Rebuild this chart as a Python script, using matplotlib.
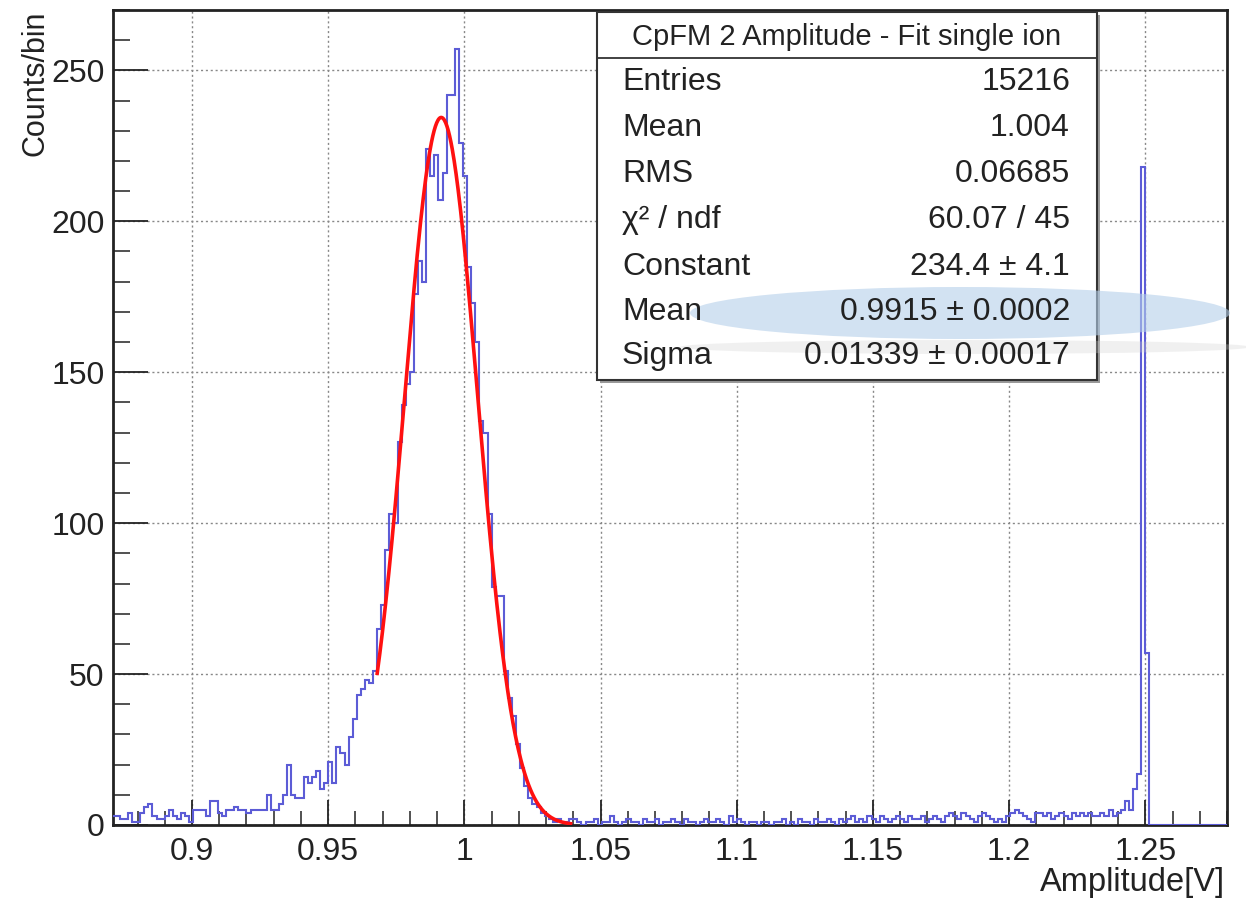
import numpy as np
import matplotlib
matplotlib.use("Agg")
import matplotlib.pyplot as plt
from matplotlib.patches import Rectangle, Ellipse

plt.rcParams['font.family'] = ['Liberation Sans', 'DejaVu Sans']

# histogram: bin width 0.0015 starting at 0.8705
bin_start = 0.8705
bin_width = 0.0015

tail_counts = [3, 3, 2, 2, 4, 1, 1, 4, 6, 7, 3, 2, 2, 3, 5, 3, 2, 4, 3, 1,
               5, 5, 5, 3, 8, 8, 4, 3, 5, 5, 6, 5, 5, 4, 5, 5, 5, 5, 10, 5,
               5, 7, 10, 20, 10, 9, 9, 16, 14, 16, 18, 12, 14, 21, 14, 26, 24, 20, 29, 35]
peak_counts = [43, 45, 48, 47, 51, 65, 73, 91, 103, 100,
               127, 139, 146, 150, 176, 187, 180, 224, 215, 222,
               207, 216, 242, 242, 257, 226, 215, 185, 173, 160,
               134, 130, 103, 79, 76, 76, 51, 42, 36, 27,
               19, 13, 9, 7, 6, 4, 3, 2, 1, 2, 1, 1]
flat_counts = [2, 2, 1, 0, 1, 1, 2, 0, 1, 1, 3, 1, 0, 1, 2, 1, 1, 0, 2, 1,
               1, 2, 0, 1, 1, 2, 1, 0, 2, 1, 1, 0, 1, 2, 1, 1, 2, 1, 0, 3,
               1, 2, 1, 0, 1, 1, 0, 1, 1, 0, 1, 1, 2, 0, 1, 0, 2, 1, 1, 0,
               2, 1, 1, 2, 1, 0, 2, 1, 2, 3, 1, 2, 1, 3, 2, 1, 3, 2, 1, 2,
               3, 2, 1, 3, 2, 2, 3, 1, 2, 3, 2, 1, 3, 4, 3, 2, 4, 3, 2, 1,
               3, 4, 3, 2, 1, 2, 1, 3, 4, 5, 4, 3, 2, 1, 4, 4, 3, 4, 2, 3,
               4, 3, 2, 4, 3, 4, 3, 4, 3, 3, 4, 3, 5, 3, 4]
spike_counts = [5, 8, 5, 12, 17, 218, 57]
end_counts = [0] * 19

counts = np.array(tail_counts + peak_counts + flat_counts + spike_counts + end_counts, dtype=float)
edges = bin_start + bin_width * np.arange(len(counts) + 1)

# gaussian fit parameters (from stats box)
fit_const = 234.4
fit_mean = 0.9915
fit_sigma = 0.01339
fit_lo, fit_hi = 0.968, 1.039

xticks = [0.9, 0.95, 1.0, 1.05, 1.1, 1.15, 1.2, 1.25]
xtick_labels = ['0.9', '0.95', '1', '1.05', '1.1', '1.15', '1.2', '1.25']
yticks = [0, 50, 100, 150, 200, 250]

stat_labels = ['Entries', 'Mean', 'RMS', '\u03c7\u00b2 / ndf', 'Constant', 'Mean', 'Sigma']
stat_values = ['15216', '1.004', '0.06685', '60.07 / 45',
               '234.4 \u00b1 4.1', '0.9915 \u00b1 0.0002', '0.01339 \u00b1 0.00017']

W, H = 1246, 898
fig = plt.figure(figsize=(W / 100, H / 100), dpi=100)


def fx(px):
    return px / W


def fy(py):
    return 1 - py / H


ax = fig.add_axes([fx(113), fy(825), fx(1227) - fx(113), fy(10) - fy(825)])
ax.set_xlim(0.871, 1.28)
ax.set_ylim(0, 270)

ax.stairs(counts, edges, color='#5c5cd6', lw=1.5, zorder=3)
xf = np.linspace(fit_lo, fit_hi, 300)
yf = fit_const * np.exp(-0.5 * ((xf - fit_mean) / fit_sigma) ** 2)
ax.plot(xf, yf, color='#ff1010', lw=2.6, zorder=4)

ax.set_xticks(xticks)
ax.set_xticklabels(xtick_labels)
ax.set_xticks(np.arange(0.88, 1.281, 0.01), minor=True)
ax.set_yticks(yticks)
ax.set_yticks(np.arange(0, 271, 10), minor=True)
ax.tick_params(axis='both', which='both', direction='in', labelsize=23, color='#222222',
               labelcolor='#222222')
ax.tick_params(axis='x', which='major', length=18, width=1.3, pad=9)
ax.tick_params(axis='x', which='minor', length=10, width=1.1)
ax.tick_params(axis='y', which='major', length=25, width=1.3, pad=6)
ax.tick_params(axis='y', which='minor', length=12, width=1.1)
ax.grid(True, which='major', ls=(0, (1.5, 2)), color='#888888', lw=1.0, zorder=0)
for s in ax.spines.values():
    s.set_linewidth(2.0)
    s.set_color('#222222')

fig.text(fx(1225), fy(882), 'Amplitude[V]', ha='right', va='center', fontsize=23.5, color='#222222')
fig.text(fx(36), fy(10), 'Counts/bin', ha='center', va='top', rotation=90, fontsize=22, color='#222222')

# stats box
bx0, bx1, by0, by1 = 597, 1097, 12, 380
fig.patches.append(Rectangle((fx(bx0 + 3), fy(by1 + 3)), fx(bx1) - fx(bx0), fy(by0) - fy(by1),
                             transform=fig.transFigure, facecolor='#9a9a9a', edgecolor='none', zorder=5))
fig.patches.append(Rectangle((fx(bx0), fy(by1)), fx(bx1) - fx(bx0), fy(by0) - fy(by1),
                             transform=fig.transFigure, facecolor='white', edgecolor='#333333',
                             lw=1.5, zorder=6))
fig.lines.append(plt.Line2D([fx(bx0), fx(bx1)], [fy(58), fy(58)], transform=fig.transFigure,
                            color='#333333', lw=1.3, zorder=7))
fig.text(fx((bx0 + bx1) / 2), fy(37), 'CpFM 2 Amplitude - Fit single ion', ha='center', va='center',
         fontsize=21, color='#222222', zorder=8)
row_y = [82, 128, 174, 220, 267, 312, 356]
for lab, val, yy in zip(stat_labels, stat_values, row_y):
    fig.text(fx(622), fy(yy), lab, ha='left', va='center', fontsize=23, color='#222222', zorder=11)
    fig.text(fx(1070), fy(yy), val, ha='right', va='center', fontsize=23, color='#222222', zorder=11)

# highlight ellipse and its faint shadow
fig.patches.append(Ellipse((fx(965), fy(347)), fx(570), 14 / H, transform=fig.transFigure,
                           facecolor='#d0d0d0', edgecolor='none', alpha=0.3, zorder=9))
fig.patches.append(Ellipse((fx(960), fy(313)), fx(540), 52 / H, transform=fig.transFigure,
                           facecolor='#b4cfea', edgecolor='none', alpha=0.6, zorder=10))

fig.savefig('out.png', dpi=100)
